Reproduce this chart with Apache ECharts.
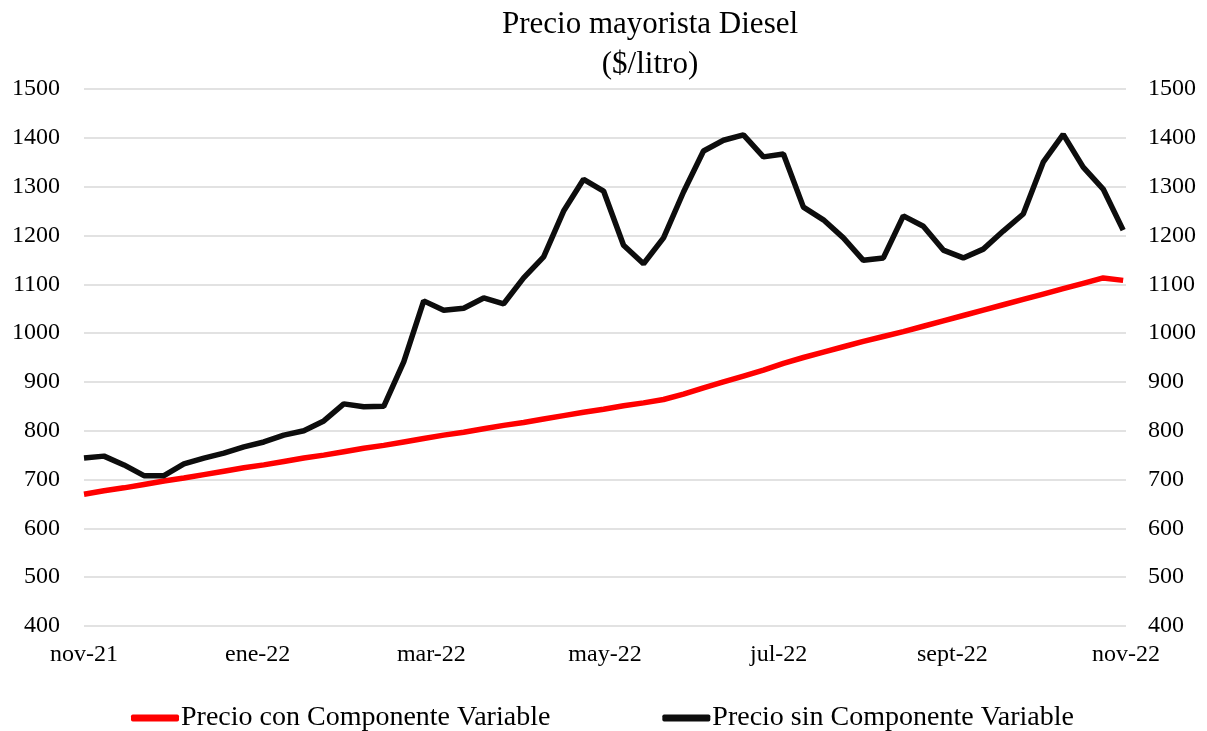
<!DOCTYPE html>
<html>
<head>
<meta charset="utf-8">
<script src="https://cdn.jsdelivr.net/npm/echarts@6/dist/echarts.min.js"></script>
<style>
html,body{margin:0;padding:0;background:#fff;}
#chart{width:1207px;height:731px;}
</style>
</head>
<body>
<div id="chart"></div>
<script>
// Weekly observations, Nov-2021 to Nov-2022 (53 weeks)
const tickLabels = ['nov-21','ene-22','mar-22','may-22','jul-22','sept-22','nov-22'];
const seriesNames = ['Precio con Componente Variable','Precio sin Componente Variable'];
const conComponente = [
  670,677,683,690,697,703,710,717,724,730,
  737,744,750,757,764,770,777,784,791,797,
  804,811,817,824,831,838,844,851,857,864,
  875,888,900,912,924,938,950,961,972,983,
  993,1003,1014,1025,1036,1047,1058,1069,1080,1091,
  1102,1113,1108
];
const sinComponente = [
  744,748,730,708,708,732,744,754,767,777,
  791,800,820,855,849,850,941,1066,1047,1051,
  1072,1060,1113,1156,1250,1315,1291,1180,1142,1195,
  1289,1373,1395,1406,1361,1367,1258,1232,1195,1149,
  1154,1240,1219,1170,1154,1172,1209,1244,1350,1407,
  1340,1295,1211
];
const daysPerWeek = 7;
const yearDays = 365;

const pts = (arr) => arr.map((v, i) => [i * daysPerWeek, v]);
const font = "'Liberation Serif', 'Times New Roman', serif";

const chart = echarts.init(document.getElementById('chart'), null, {renderer: 'canvas'});
const yAxisBase = {
  type: 'value', min: 400, max: 1500, interval: 100,
  axisLine: {show: false}, axisTick: {show: false},
  axisLabel: {color: '#000', fontFamily: font, fontSize: 24, margin: 24, formatter: (v) => String(v)},
  splitLine: {show: true, lineStyle: {color: '#d9d9d9', width: 1.5}}
};
chart.setOption({
  animation: false,
  backgroundColor: '#fff',
  title: {
    text: 'Precio mayorista Diesel\n($/litro)',
    left: 645, top: 0, textAlign: 'center',
    textStyle: {fontFamily: font, fontSize: 31, fontWeight: 'normal', color: '#000', lineHeight: 40}
  },
  legend: {
    left: 126, top: 699, itemGap: 112, itemWidth: 48, itemHeight: 7,
    icon: 'roundRect',
    textStyle: {fontFamily: font, fontSize: 28, color: '#000', padding: [0,0,0,-3]},
    data: seriesNames
  },
  grid: {left: 84, right: 81, top: 89, bottom: 105, containLabel: false},
  xAxis: {
    type: 'value', min: 0, max: yearDays, interval: yearDays / 6,
    axisLine: {show: false}, axisTick: {show: false}, splitLine: {show: false},
    axisLabel: {
      color: '#000', fontFamily: font, fontSize: 24, margin: 17, showMaxLabel: true, showMinLabel: true,
      formatter: (v) => tickLabels[Math.round(v / (yearDays / 6))] || ''
    }
  },
  yAxis: [
    Object.assign({}, yAxisBase, {position: 'left'}),
    Object.assign({}, yAxisBase, {position: 'right', splitLine: {show: false},
      axisLabel: Object.assign({}, yAxisBase.axisLabel, {margin: 22})})
  ],
  series: [
    {name: seriesNames[0], type: 'line', data: pts(conComponente), showSymbol: false,
     lineStyle: {color: '#ff0000', width: 5.5}, itemStyle: {color: '#ff0000'}, z: 2},
    {name: seriesNames[1], type: 'line', data: pts(sinComponente), showSymbol: false,
     lineStyle: {color: '#0d0d0d', width: 5.5}, itemStyle: {color: '#0d0d0d'}, z: 3}
  ]
});
</script>
</body>
</html>
